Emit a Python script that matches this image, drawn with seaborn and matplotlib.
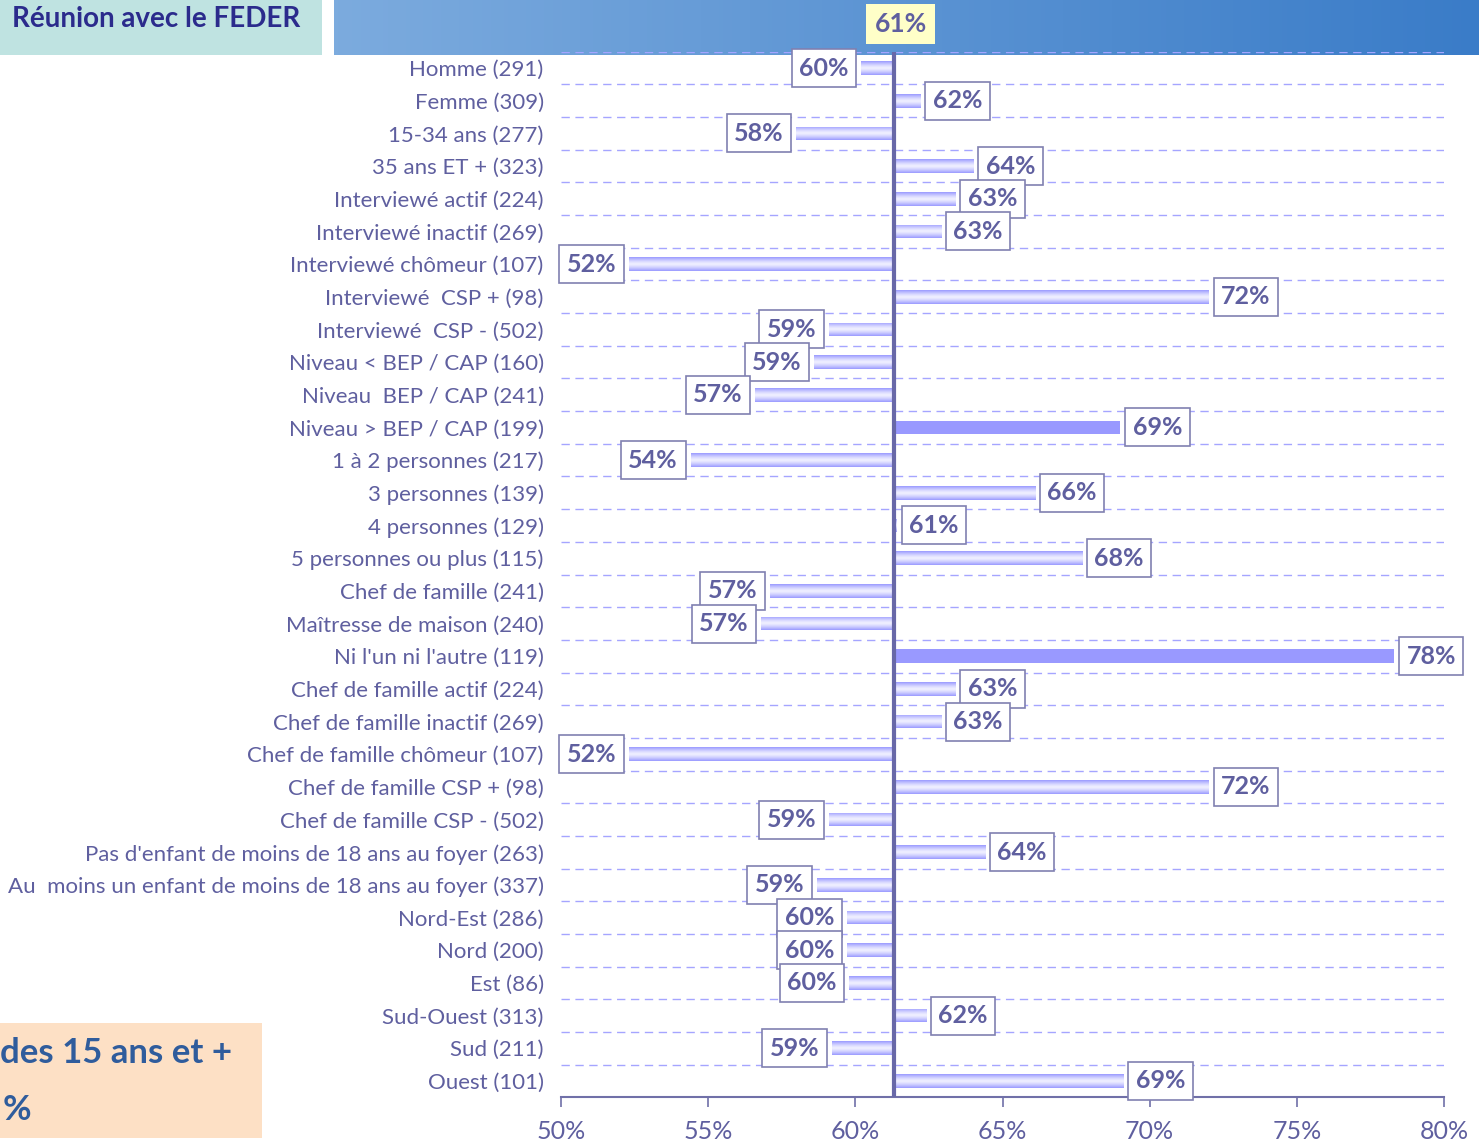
import numpy as np
import pandas as pd
import seaborn as sns
import matplotlib.pyplot as plt
from matplotlib.patches import Rectangle
from matplotlib.colors import to_rgb

# data
categories = [
    "Homme (291)", "Femme (309)", "15-34 ans (277)", "35 ans ET + (323)",
    "Interviewé actif (224)", "Interviewé inactif (269)", "Interviewé chômeur (107)",
    "Interviewé  CSP + (98)", "Interviewé  CSP - (502)", "Niveau < BEP / CAP (160)",
    "Niveau  BEP / CAP (241)", "Niveau > BEP / CAP (199)", "1 à 2 personnes (217)",
    "3 personnes (139)", "4 personnes (129)", "5 personnes ou plus (115)",
    "Chef de famille (241)", "Maîtresse de maison (240)", "Ni l'un ni l'autre (119)",
    "Chef de famille actif (224)", "Chef de famille inactif (269)",
    "Chef de famille chômeur (107)", "Chef de famille CSP + (98)",
    "Chef de famille CSP - (502)", "Pas d'enfant de moins de 18 ans au foyer (263)",
    "Au  moins un enfant de moins de 18 ans au foyer (337)", "Nord-Est (286)",
    "Nord (200)", "Est (86)", "Sud-Ouest (313)", "Sud (211)", "Ouest (101)",
]
values = [60.2, 62.2, 58.0, 64.0, 63.4, 62.9, 52.3, 72.0, 59.1, 58.6, 56.6, 69.0,
          54.4, 66.1, 61.4, 67.7, 57.1, 56.8, 78.3, 63.4, 62.9, 52.3, 72.0, 59.1,
          64.4, 58.7, 59.7, 59.7, 59.8, 62.4, 59.2, 69.1]
significant = [False] * len(categories)
significant[11] = True   # Niveau > BEP / CAP
significant[18] = True   # Ni l'un ni l'autre
overall = 61.3
xticks = [50, 55, 60, 65, 70, 75, 80]

title = "Réunion avec le FEDER"
note = "des 15 ans et +"

txt_col = "#5f5f9f"
bar_col = "#9999ff"
W, H = 1479, 1147

df = pd.DataFrame({"cat": categories, "val": values})
df["diff"] = df["val"] - overall

sns.set_style("white")
plt.rcParams["font.family"] = ["Lato", "DejaVu Sans"]

fig = plt.figure(figsize=(W / 100, H / 100), dpi=100)

# header decorations
fig.patches.append(Rectangle((0, 1 - 55 / H), 322 / W, 55 / H, transform=fig.transFigure,
                             facecolor="#bfe3e1", edgecolor="none", zorder=0))
fig.text(300 / W, 1 - 6 / H, title, ha="right", va="top", fontsize=20,
         fontweight="bold", color="#2b2b8c")
band = fig.add_axes([334 / W, 1 - 55 / H, 1 - 334 / W, 55 / H], zorder=0)
c0, c1 = np.array(to_rgb("#7cabde")), np.array(to_rgb("#3a7cc8"))
grad = np.linspace(0, 1, 256)[None, :, None]
band.imshow(c0 + (c1 - c0) * grad, aspect="auto", extent=(0, 1, 0, 1))
band.axis("off")

# footer box
fig.patches.append(Rectangle((0, 1 - 1138 / H), 262 / W, 115 / H, transform=fig.transFigure,
                             facecolor="#fde0c5", edgecolor="none", zorder=0))
fig.text(0, 1 - 1053 / H, note, ha="left", va="center", fontsize=25,
         fontweight="bold", color="#2f5c9c")
fig.text(0.002, 1 - 1110 / H, "%", ha="left", va="center", fontsize=25,
         fontweight="bold", color="#2f5c9c")

ax = fig.add_axes([561 / W, 1 - 1097.3 / H, (1444 - 561) / W, (1097.3 - 51.7) / H], zorder=2)
ax.patch.set_alpha(0)

sns.barplot(data=df, x="diff", y="cat", orient="h", color=bar_col, saturation=1,
            width=0.42, ax=ax)

dark = np.array(to_rgb(bar_col))
light = np.array(to_rgb("#efefff"))
t = np.linspace(0, 1, 64)
prof = 1 - np.abs(2 * t - 1) ** 1.4
gcol = (dark + (light - dark) * prof[:, None])[:, None, :]

for p, sig in zip(ax.patches, significant):
    p.set_x(p.get_x() + overall)
    p.set_edgecolor("none")
    if not sig:
        x0, x1 = p.get_x(), p.get_x() + p.get_width()
        y0, y1 = p.get_y(), p.get_y() + p.get_height()
        im = ax.imshow(gcol, aspect="auto", extent=(min(x0, x1), max(x0, x1), y1, y0),
                       zorder=p.get_zorder(), interpolation="bilinear")
        im.set_clip_path(p)
        p.set_facecolor("none")

n = len(categories)
ax.hlines(np.arange(-0.5, n - 1, 1), xticks[0], xticks[-1], colors="#a5a5ff",
          linestyles=(0, (6, 4)), lw=1, zorder=0.5)
ax.axvline(overall, color="#6868a8", lw=3, zorder=3)

for i, v in enumerate(values):
    right = v >= overall
    ax.annotate(f"{v:.0f}%", xy=(v, i), xytext=(9 if right else -9, 0),
                textcoords="offset points", ha="left" if right else "right", va="center",
                fontsize=18, fontweight="bold", color=txt_col, zorder=4,
                bbox=dict(boxstyle="square,pad=0.3", facecolor="white",
                          edgecolor="#8080b0", lw=1.2))

ax.annotate(f"{overall:.0f}%", xy=(overall, -0.5), xytext=(5, 20),
            textcoords="offset points", ha="center", va="center", fontsize=19,
            fontweight="bold", color=txt_col, annotation_clip=False,
            bbox=dict(boxstyle="square,pad=0.3", facecolor="#ffffc8", edgecolor="none"))

ax.set_xlim(xticks[0], xticks[-1])
ax.set_ylim(n - 0.5, -0.5)
ax.set_xticks(xticks)
ax.set_xticklabels([f"{x}%" for x in xticks])
ax.set_xlabel("")
ax.set_ylabel("")
for s in ["top", "right", "left"]:
    ax.spines[s].set_visible(False)
ax.spines["bottom"].set_color("#7070a8")
ax.spines["bottom"].set_linewidth(1.5)
ax.tick_params(axis="x", bottom=True, direction="out", length=7, width=1.2,
               color="#7070a8", labelcolor=txt_col, labelsize=18, pad=9)
ax.tick_params(axis="y", left=False, labelcolor=txt_col, labelsize=16, pad=9)

fig.savefig("out.png", dpi=100)
